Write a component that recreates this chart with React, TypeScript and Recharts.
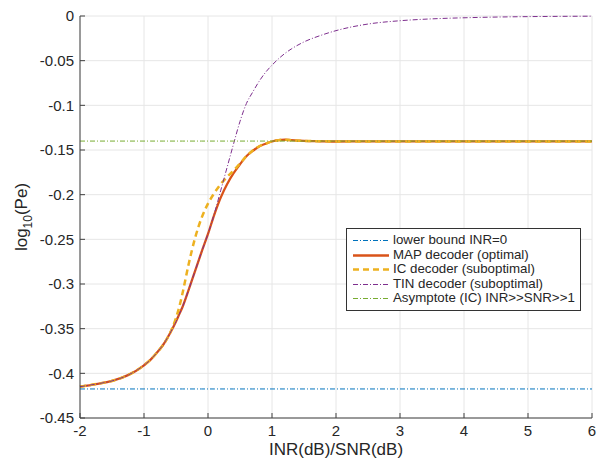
import React from 'react';
import { LineChart, Line, XAxis, YAxis, CartesianGrid } from 'recharts';

// x positions (INR(dB)/SNR(dB)) and curve values
const xValues = [
  -2, -1.75, -1.5, -1.25, -1, -0.9, -0.8, -0.7, -0.6, -0.5, -0.45, -0.4, -0.3, -0.2, -0.1, 0, 0.1, 0.2,
  0.3, 0.4, 0.5, 0.6, 0.7, 0.8, 0.9, 1, 1.1, 1.2, 1.3, 1.5, 1.75, 2, 2.5, 3, 3.5, 4, 4.5, 5, 5.5, 6,
];
const mapValues = [
  -0.415, -0.412, -0.4085, -0.402, -0.391, -0.385, -0.377, -0.368, -0.356, -0.342, -0.334, -0.326,
  -0.306, -0.285, -0.264, -0.244, -0.222, -0.203, -0.188, -0.176, -0.166, -0.157, -0.151, -0.146,
  -0.143, -0.1405, -0.139, -0.1385, -0.139, -0.1398, -0.1402, -0.1405, -0.1404, -0.1404, -0.1404,
  -0.1404, -0.1404, -0.1404, -0.1404, -0.1404,
];
const icValues = [
  -0.415, -0.412, -0.4085, -0.402, -0.391, -0.385, -0.377, -0.368, -0.356, -0.338, -0.326, -0.311,
  -0.277, -0.248, -0.226, -0.21, -0.198, -0.188, -0.18, -0.173, -0.165, -0.157, -0.1505, -0.1458,
  -0.143, -0.1405, -0.139, -0.1385, -0.139, -0.1398, -0.1402, -0.1405, -0.1404, -0.1404, -0.1404,
  -0.1404, -0.1404, -0.1404, -0.1404, -0.1404,
];
const tinValues = [
  -0.415, -0.412, -0.4085, -0.402, -0.391, -0.385, -0.377, -0.368, -0.356, -0.342, -0.334, -0.326,
  -0.306, -0.285, -0.264, -0.244, -0.221, -0.195, -0.169, -0.143, -0.118, -0.098, -0.085, -0.073,
  -0.063, -0.055, -0.048, -0.042, -0.037, -0.029, -0.022, -0.0164, -0.009, -0.0053, -0.0032, -0.002,
  -0.0012, -0.0007, -0.0004, -0.0002,
];
const lowerBound = -0.4175;
const asymptote = -0.14;

const xTicks = [-2, -1, 0, 1, 2, 3, 4, 5, 6];
const yTicks = [0, -0.05, -0.1, -0.15, -0.2, -0.25, -0.3, -0.35, -0.4, -0.45];

const data = xValues.map((x, i) => ({
  x,
  lower: lowerBound,
  map: mapValues[i],
  ic: icValues[i],
  tin: tinValues[i],
  asym: asymptote,
}));

const FONT = '"Liberation Sans", Arial, Helvetica, sans-serif';
const TEXT = '#262626';
const AXIS = '#404040';

const series = [
  { key: 'lower', name: 'lower bound INR=0', color: '#0072BD', width: 1, dash: '5 2 1 2' },
  { key: 'map', name: 'MAP decoder (optimal)', color: '#D95319', width: 2.3, dash: undefined },
  { key: 'ic', name: 'IC decoder (suboptimal)', color: '#EDB120', width: 2.5, dash: '6 4' },
  { key: 'tin', name: 'TIN decoder (suboptimal)', color: '#7E2F8E', width: 1, dash: '5 2 1 2' },
  { key: 'asym', name: 'Asymptote (IC) INR>>SNR>>1', color: '#77AC30', width: 1, dash: '5 2 1 2' },
];

const fmt = (v: number) => String(Number(v.toFixed(2)));

const XTick = ({ x, y, payload }: any) => (
  <g>
    <line x1={x} y1={y} x2={x} y2={y - 5} stroke={AXIS} strokeWidth={1} />
    <text x={x} y={y + 7} dy="0.71em" textAnchor="middle" fontSize={15} fontFamily={FONT} fill={TEXT}>
      {fmt(payload.value)}
    </text>
  </g>
);

const YTick = ({ x, y, payload }: any) => (
  <g>
    <line x1={x} y1={y} x2={x + 5} y2={y} stroke={AXIS} strokeWidth={1} />
    <text x={x - 6} y={y} dy="0.35em" textAnchor="end" fontSize={15} fontFamily={FONT} fill={TEXT}>
      {fmt(payload.value)}
    </text>
  </g>
);

const YLabel = ({ viewBox }: any) => {
  const cx = 27;
  const cy = viewBox.y + viewBox.height / 2;
  return (
    <text
      x={cx}
      y={cy}
      textAnchor="middle"
      transform={`rotate(-90, ${cx}, ${cy})`}
      fontSize={17}
      fontFamily={FONT}
      fill={TEXT}
    >
      log
      <tspan fontSize={12} dy={5}>10</tspan>
      <tspan dy={-5}>(Pe)</tspan>
    </text>
  );
};

const XLabel = ({ viewBox }: any) => (
  <text
    x={viewBox.x + viewBox.width / 2}
    y={455}
    textAnchor="middle"
    fontSize={17}
    fontFamily={FONT}
    fill={TEXT}
  >
    INR(dB)/SNR(dB)
  </text>
);

const LegendBox = () => (
  <div
    style={{
      position: 'absolute',
      left: 346,
      top: 228,
      border: '1px solid #333',
      background: '#fff',
      padding: '4px 5px 4px 6px',
      fontFamily: FONT,
      fontSize: 13.3,
      color: TEXT,
      lineHeight: '14.5px',
      whiteSpace: 'nowrap',
    }}
  >
    {series.map(s => (
      <div key={s.key} style={{ display: 'flex', alignItems: 'center' }}>
        <svg width={36} height={14.5} style={{ marginRight: 4 }}>
          <line
            x1={0}
            y1={7.5}
            x2={36}
            y2={7.5}
            stroke={s.color}
            strokeWidth={s.width}
            strokeDasharray={s.dash}
          />
        </svg>
        <span>{s.name}</span>
      </div>
    ))}
  </div>
);

export default function App() {
  return (
    <div style={{ position: 'absolute', left: 0, top: 0, width: 608, height: 459, background: '#fff' }}>
      <LineChart width={608} height={459} data={data} margin={{ top: 16, right: 16, left: 0, bottom: 0 }}>
        <CartesianGrid stroke="#e6e6e6" strokeWidth={1} />
        <XAxis
          dataKey="x"
          type="number"
          domain={[-2, 6]}
          ticks={xTicks}
          height={41}
          tickSize={0}
          tickMargin={0}
          tickLine={false}
          tick={<XTick />}
          stroke={AXIS}
          label={<XLabel />}
        />
        <YAxis
          type="number"
          domain={[-0.45, 0]}
          ticks={yTicks}
          width={80}
          tickSize={0}
          tickMargin={0}
          tickLine={false}
          tick={<YTick />}
          stroke={AXIS}
          label={<YLabel />}
        />
        {series.map(s => (
          <Line
            key={s.key}
            dataKey={s.key}
            name={s.name}
            type="monotone"
            stroke={s.color}
            strokeWidth={s.width}
            strokeDasharray={s.dash}
            dot={false}
            activeDot={false}
            isAnimationActive={false}
          />
        ))}
      </LineChart>
      <LegendBox />
    </div>
  );
}
